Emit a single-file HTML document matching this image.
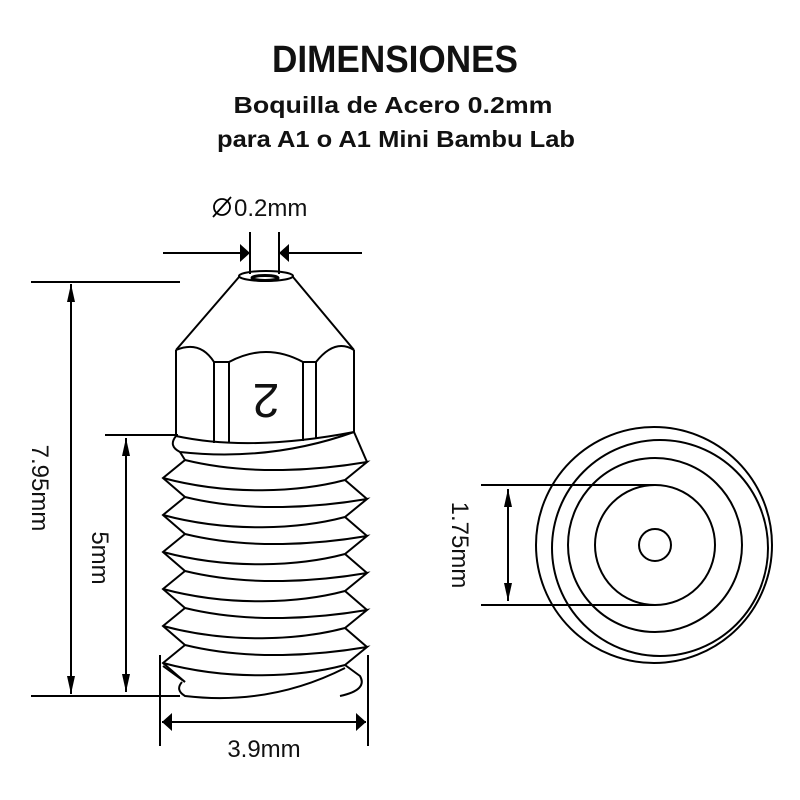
<!DOCTYPE html>
<html><head><meta charset="utf-8"><style>html,body{margin:0;padding:0;background:#fff}svg{display:block}</style></head>
<body>
<svg width="800" height="800" viewBox="0 0 800 800" xmlns="http://www.w3.org/2000/svg">
<defs>
<marker id="a" viewBox="0 0 10 10" refX="10" refY="5" markerWidth="18" markerHeight="8" orient="auto-start-reverse" markerUnits="userSpaceOnUse" preserveAspectRatio="none"><path d="M0,0 L10,5 L0,10 z" fill="#000"/></marker>
<marker id="b" viewBox="0 0 10 10" refX="10" refY="5" markerWidth="10" markerHeight="18" orient="auto-start-reverse" markerUnits="userSpaceOnUse" preserveAspectRatio="none"><path d="M0,0 L10,5 L0,10 z" fill="#000"/></marker>
</defs>
<g font-family="Liberation Sans, sans-serif" font-weight="bold" fill="#111" text-anchor="middle">
<text x="395" y="72" font-size="38" textLength="246" lengthAdjust="spacingAndGlyphs">DIMENSIONES</text>
<text x="393" y="113" font-size="23" textLength="319" lengthAdjust="spacingAndGlyphs">Boquilla de Acero 0.2mm</text>
<text x="396" y="147" font-size="23" textLength="358" lengthAdjust="spacingAndGlyphs">para A1 o A1 Mini Bambu Lab</text>
</g>
<g font-family="Liberation Sans, sans-serif" fill="#111" font-size="24">
<text x="234" y="216">0.2mm</text>
<text x="264" y="757" text-anchor="middle">3.9mm</text>
<text transform="translate(32,488) rotate(90)" text-anchor="middle">7.95mm</text>
<text transform="translate(92,558) rotate(90)" text-anchor="middle">5mm</text>
<text transform="translate(452,545) rotate(90)" text-anchor="middle">1.75mm</text>
</g>
<g stroke="#000" stroke-width="2" fill="none">
<circle cx="222" cy="207" r="8" stroke-width="1.8"/>
<line x1="213" y1="217" x2="231" y2="197" stroke-width="1.8"/>
<!-- top dimension -->
<line x1="250" y1="232" x2="250" y2="274"/><line x1="279" y1="232" x2="279" y2="274"/>
<line x1="163" y1="253" x2="250" y2="253" marker-end="url(#b)"/>
<line x1="362" y1="253" x2="279" y2="253" marker-end="url(#b)"/>
<!-- height dims -->
<line x1="31" y1="282" x2="180" y2="282"/>
<line x1="31" y1="696" x2="180" y2="696"/>
<line x1="71" y1="284" x2="71" y2="694" marker-start="url(#a)" marker-end="url(#a)"/>
<line x1="105" y1="435" x2="178" y2="435"/>
<line x1="126" y1="438" x2="126" y2="692" marker-start="url(#a)" marker-end="url(#a)"/>
<!-- width dim -->
<line x1="160" y1="655" x2="160" y2="746"/><line x1="368" y1="655" x2="368" y2="746"/>
<line x1="162" y1="722" x2="366" y2="722" marker-start="url(#b)" marker-end="url(#b)"/>
<!-- nozzle tip -->
<ellipse cx="266" cy="276" rx="27" ry="5"/>
<ellipse cx="265" cy="278" rx="13" ry="2.5" stroke-width="3"/>
<path d="M239,277 L176,350 M293,277 L354,350"/>
<!-- hex -->
<path d="M176,350 Q200,340 214,362 M229,362 Q266,342 303,362 M316,362 Q335,338 354,350"/>
<path d="M176,350 L176,436 M354,350 L354,432 M214,362 L214,443 M229,362 L229,443 M303,362 L303,441 M316,362 L316,438 M214,362 L229,362 M303,362 L316,362"/>
<path d="M176,436 Q250,452 354,432"/>
<text x="266" y="420" font-family="Liberation Sans, sans-serif" font-size="48" fill="#111" stroke="none" text-anchor="middle" transform="rotate(180 266 402)">2</text>
<!-- collar -->
<path d="M176,436 Q168,446 180,452 Q270,462 354,432"/>
<!-- threads -->
<g>
<path d="M180,452 L185,460 L163,478 L185,497"/>
<path d="M185,460 C250,476 320,470 367,462 L345,480"/>
<path d="M163,478 C230,496 300,492 345,480"/>
<path d="M354,432 L367,462"/>
</g>
<g transform="translate(0,37)"><path d="M185,460 L163,478 L185,497"/><path d="M185,460 C250,476 320,470 367,462 L345,480 M345,443 L367,462"/><path d="M163,478 C230,496 300,492 345,480"/></g>
<g transform="translate(0,74)"><path d="M185,460 L163,478 L185,497"/><path d="M185,460 C250,476 320,470 367,462 L345,480 M345,443 L367,462"/><path d="M163,478 C230,496 300,492 345,480"/></g>
<g transform="translate(0,111)"><path d="M185,460 L163,478 L185,497"/><path d="M185,460 C250,476 320,470 367,462 L345,480 M345,443 L367,462"/><path d="M163,478 C230,496 300,492 345,480"/></g>
<g transform="translate(0,148)"><path d="M185,460 L163,478 L185,497"/><path d="M185,460 C250,476 320,470 367,462 L345,480 M345,443 L367,462"/><path d="M163,478 C230,496 300,492 345,480"/></g>
<g transform="translate(0,185)"><path d="M185,460 L163,478 L185,497"/><path d="M185,460 C250,476 320,470 367,462 L345,480 M345,443 L367,462"/><path d="M163,478 C230,496 300,492 345,480"/></g>
<path d="M185,682 L163,666 M182,682 Q175,690 185,696 Q270,706 345,668 M345,665 L360,676 Q368,690 340,696"/>
<!-- right view -->
<circle cx="654" cy="545" r="118"/>
<circle cx="660" cy="548" r="108"/>
<circle cx="655" cy="545" r="87"/>
<circle cx="655" cy="545" r="60"/>
<circle cx="655" cy="545" r="16"/>
<line x1="481" y1="485" x2="655" y2="485"/>
<line x1="481" y1="605" x2="655" y2="605"/>
<line x1="508" y1="489" x2="508" y2="601" marker-start="url(#a)" marker-end="url(#a)"/>
</g>
</svg>
</body></html>
